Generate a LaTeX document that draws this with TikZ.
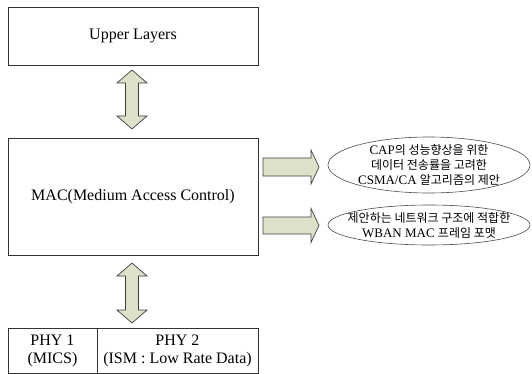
\documentclass[tikz,border=0pt]{standalone}
\usepackage{fontspec}
\setmainfont{Liberation Serif}
\newfontfamily\krfont{Noto Sans CJK KR}
\usetikzlibrary{calc}

\definecolor{arrowfill}{RGB}{221,225,201}
\newcommand{\kr}[1]{{\krfont\fontsize{12}{15}\selectfont #1}}

\begin{document}
\begin{tikzpicture}[x=1pt,y=1pt,
  box/.style={draw=black!80,line width=0.8pt,minimum width=250pt,inner sep=0pt,
    align=center,font=\fontsize{16}{18}\selectfont},
  fat/.style={draw=black!75,line width=0.7pt,fill=arrowfill,line join=miter},
  oval/.style={draw=black!70,line width=0.6pt},
  idea/.style={inner sep=0pt,align=center,font=\fontsize{13}{15}\selectfont}]
  \useasboundingbox (0,0) rectangle (532,-374);

  % layer boxes
  \node[box,minimum height=58pt] (upper) at (133,-36) {Upper Layers};
  \node[box,minimum height=117pt] (mac) at (133,-196.5) {MAC(Medium Access Control)};
  \node[box,minimum width=89pt,minimum height=45pt] (phyA) at (52.5,-350.5) {PHY 1\\(MICS)};
  \node[box,minimum width=161pt,minimum height=45pt] (phyB) at (177.5,-350.5) {PHY 2\\(ISM : Low Rate Data)};

  % proposals
  \node[idea] (capidea) at (429,-165)
    {CAP\kr{의 성능향상을 위한}\\\kr{데이터 전송률을 고려한}\\CSMA/CA \kr{알고리즘의 제안}};
  \node[idea] (frameidea) at (429,-225)
    {\kr{제안하는 네트워크 구조에 적합한}\\WBAN MAC \kr{프레임 포맷}};
  \draw[oval] (capidea.center) ellipse [x radius=101, y radius=28];
  \draw[oval] (frameidea.center) ellipse [x radius=101, y radius=20];

  % vertical double arrows
  \draw[fat] ($(upper.south)+(-1,-4.6)$) -- ++(15,-13) -- ++(-8.5,0) -- ++(0,-33)
    -- ++(8.5,0) -- ++(-15,-13) -- ++(-15,13) -- ++(8.5,0) -- ++(0,33) -- ++(-8.5,0) -- cycle;
  \draw[fat] ($(mac.south)+(-1,-7.6)$) -- ++(15,-13) -- ++(-8.5,0) -- ++(0,-34)
    -- ++(8.5,0) -- ++(-15,-13) -- ++(-15,13) -- ++(8.5,0) -- ++(0,34) -- ++(-8.5,0) -- cycle;

  % arrows towards the proposals
  \draw[fat] ($(mac.east)+(4.6,38.5)$) -- ++(48,0) -- ++(0,8) -- ++(8,-17)
    -- ++(-8,-17) -- ++(0,8) -- ++(-48,0) -- cycle;
  \draw[fat] ($(mac.east)+(4.6,-20.5)$) -- ++(48,0) -- ++(0,8.5) -- ++(8,-17)
    -- ++(-8,-17) -- ++(0,8.5) -- ++(-48,0) -- cycle;
\end{tikzpicture}
\end{document}
